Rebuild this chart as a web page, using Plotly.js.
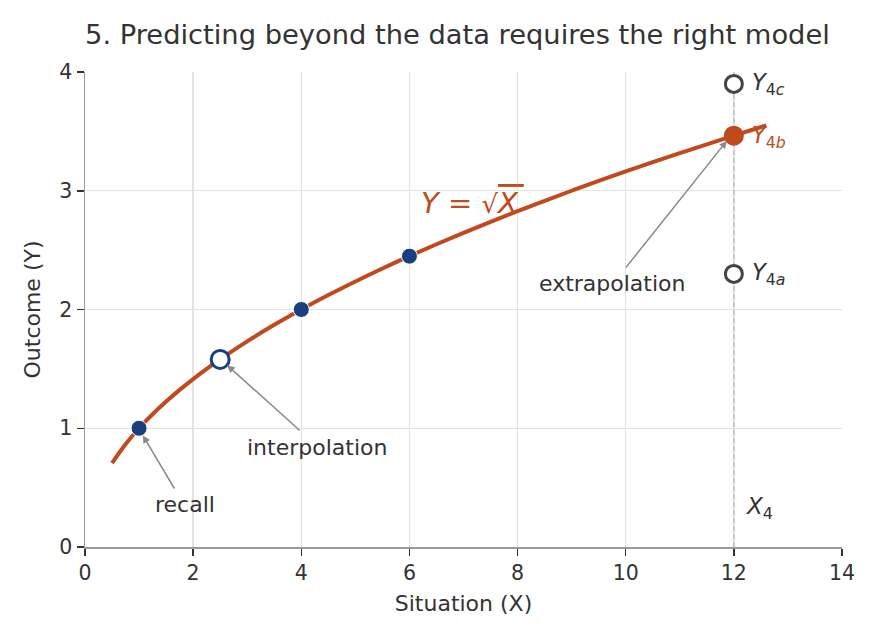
<!DOCTYPE html>
<html>
<head>
<meta charset="utf-8">
<script src="https://cdn.plot.ly/plotly-3.0.1.min.js"></script>
<style>html,body{margin:0;padding:0;background:#fff;}</style>
</head>
<body>
<div id="chart" style="width:880px;height:640px;"></div>
<script>
// Curve sample points (x) for Y = sqrt(X)
const curveX = [0.5,0.75,1,1.25,1.5,1.75,2,2.25,2.5,2.75,3,3.5,4,4.5,5,5.5,6,6.5,7,7.5,8,8.5,9,9.5,10,10.5,11,11.5,12,12.3,12.6];
const curveY = curveX.map(Math.sqrt);

// Observed data points
const dataX = [1, 4, 6];
const dataY = [1, 2, 2.449];

// Interpolated point
const interpX = [2.5];
const interpY = [1.58];

// Correct extrapolation
const extrapX = [12];
const extrapY = [3.464];

// Alternative (wrong-model) predictions
const altX = [12, 12];
const altY = [2.3, 3.9];

// Vertical X4 guide
const guideX = [12, 12];
const guideY = [0, 4];

const orange = '#c14a1c';
const navy = '#1b3f7e';
const dark = '#444444';
const font = 'DejaVu Sans, sans-serif';

const traces = [
  {x: guideX, y: guideY, mode: 'lines', line: {color: '#bdbdbd', width: 1.4, dash: '5px,3px'}, hoverinfo: 'skip'},
  {x: curveX, y: curveY, mode: 'lines', line: {color: orange, width: 4, shape: 'spline'}, hoverinfo: 'skip'},
  {x: dataX, y: dataY, mode: 'markers', marker: {color: navy, size: 16, line: {color: '#ffffff', width: 1}}},
  {x: interpX, y: interpY, mode: 'markers', marker: {color: '#ffffff', size: 18, line: {color: navy, width: 3}}},
  {x: extrapX, y: extrapY, mode: 'markers', marker: {color: orange, size: 20}},
  {x: altX, y: altY, mode: 'markers', marker: {color: '#ffffff', size: 17, line: {color: dark, width: 3}}}
];

const ann = [
  {x: 1.07, y: 0.94, ax: 1.67, ay: 0.48, axref: 'x', ayref: 'y', xref: 'x', yref: 'y', text: '', showarrow: true, arrowhead: 2, arrowsize: 1, arrowwidth: 1.5, arrowcolor: '#888'},
  {x: 1.85, y: 0.36, xref: 'x', yref: 'y', text: 'recall', showarrow: false, font: {size: 22, color: '#333', family: font}},
  {x: 2.63, y: 1.53, ax: 4.0, ay: 0.97, axref: 'x', ayref: 'y', xref: 'x', yref: 'y', text: '', showarrow: true, arrowhead: 2, arrowsize: 1, arrowwidth: 1.5, arrowcolor: '#888'},
  {x: 4.29, y: 0.84, xref: 'x', yref: 'y', text: 'interpolation', showarrow: false, font: {size: 22, color: '#333', family: font}},
  {x: 11.87, y: 3.42, ax: 9.98, ay: 2.34, axref: 'x', ayref: 'y', xref: 'x', yref: 'y', text: '', showarrow: true, arrowhead: 2, arrowsize: 1, arrowwidth: 1.5, arrowcolor: '#888'},
  {x: 9.75, y: 2.22, xref: 'x', yref: 'y', text: 'extrapolation', showarrow: false, font: {size: 22, color: '#333', family: font}},
  {x: 7.16, y: 2.9, xref: 'x', yref: 'y', text: '<i>Y</i> = <span style="font-size:26px">√</span><span style="text-decoration:overline"><i>X</i>\u2009</span>', showarrow: false, font: {size: 29, color: orange, family: font}},
  {x: 12.3, y: 3.9, xref: 'x', yref: 'y', xanchor: 'left', text: '<i>Y</i><sub>4<i>c</i></sub>', showarrow: false, font: {size: 22.5, color: '#333', family: font}},
  {x: 12.3, y: 3.45, xref: 'x', yref: 'y', xanchor: 'left', text: '<i>Y</i><sub>4<i>b</i></sub>', showarrow: false, font: {size: 22.5, color: orange, family: font}},
  {x: 12.3, y: 2.3, xref: 'x', yref: 'y', xanchor: 'left', text: '<i>Y</i><sub>4<i>a</i></sub>', showarrow: false, font: {size: 22.5, color: '#333', family: font}},
  {x: 12.18, y: 0.33, xref: 'x', yref: 'y', xanchor: 'left', text: '<i>X</i><sub>4</sub>', showarrow: false, font: {size: 23, color: '#333', family: font}}
];

const layout = {
  width: 880, height: 640,
  margin: {l: 85, r: 38, t: 72, b: 93},
  paper_bgcolor: '#ffffff', plot_bgcolor: '#ffffff',
  showlegend: false,
  font: {family: font, color: '#333', size: 20},
  title: {text: '5. Predicting beyond the data requires the right model', x: 0.492, xref: 'paper', xanchor: 'center', y: 0.946, yanchor: 'middle', font: {size: 27.3, color: '#333', family: font}},
  xaxis: {
    range: [0, 14], dtick: 2, tick0: 0,
    showgrid: true, gridcolor: '#e3e3e3', gridwidth: 1.3,
    showline: true, linecolor: '#999', linewidth: 1.5,
    ticks: 'outside', ticklen: 7, tickcolor: '#333', tickwidth: 1.5,
    tickfont: {size: 20.5, color: '#333'},
    zeroline: false,
    title: {text: 'Situation (X)', font: {size: 22, color: '#333'}, standoff: 11}
  },
  yaxis: {
    range: [0, 4], dtick: 1, tick0: 0,
    showgrid: true, gridcolor: '#e3e3e3', gridwidth: 1.3,
    showline: true, linecolor: '#999', linewidth: 1.5,
    ticks: 'outside', ticklen: 7, tickcolor: '#333', tickwidth: 1.5,
    tickfont: {size: 20.5, color: '#333'},
    zeroline: false,
    title: {text: 'Outcome (Y)', font: {size: 22, color: '#333'}, standoff: 12}
  },
  annotations: ann
};

Plotly.newPlot('chart', traces, layout, {displayModeBar: false, staticPlot: true});
</script>
</body>
</html>
